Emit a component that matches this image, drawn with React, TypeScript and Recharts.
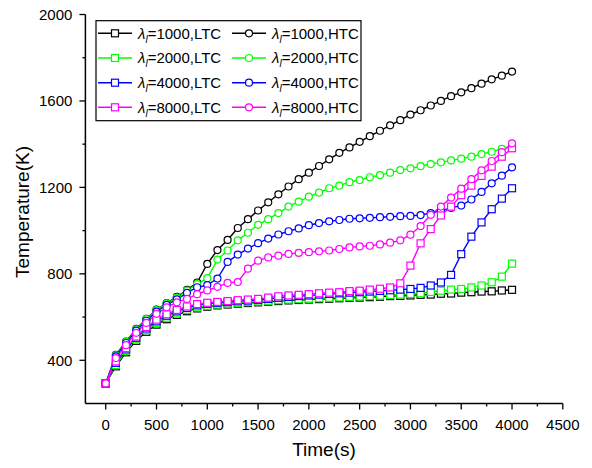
import React from 'react';
import { LineChart, Line, XAxis, YAxis } from 'recharts';

const FONT = '"Liberation Sans", Arial, sans-serif';

const times = [
  0, 100, 200, 300, 400, 500, 600, 700, 800, 900, 1000, 1100, 1200, 1300, 1400, 1500, 1600, 1700, 1800, 1900, 2000,
  2100, 2200, 2300, 2400, 2500, 2600, 2700, 2800, 2900, 3000, 3100, 3200, 3300, 3400, 3500, 3600, 3700, 3800, 3900, 4000,
];

const ltc1000 = [
  293, 372, 437, 490, 532, 565, 590, 610, 627, 640, 648, 654, 658, 662, 665, 668, 671, 674, 677, 679, 681,
  683, 685, 687, 689, 690, 692, 694, 697, 698, 700, 703, 704, 708, 709, 713, 715, 718, 719, 723, 726,
];
const htc1000 = [
  293, 425, 487, 545, 592, 634, 665, 693, 726, 760, 846, 910, 957, 1012, 1053, 1093, 1131, 1168, 1204, 1238, 1268,
  1299, 1330, 1360, 1385, 1411, 1437, 1462, 1487, 1511, 1537, 1557, 1579, 1600, 1622, 1640, 1659, 1680, 1700, 1717, 1736,
];
const ltc2000 = [
  293, 378, 443, 497, 539, 572, 597, 617, 633, 645, 652, 658, 662, 666, 669, 672, 675, 678, 681, 683, 685,
  687, 689, 691, 693, 695, 697, 699, 702, 704, 707, 710, 716, 722, 727, 730, 737, 746, 761, 787, 847,
];
const htc2000 = [
  293, 423, 485, 543, 590, 632, 663, 690, 722, 752, 780, 866, 908, 955, 990, 1027, 1053, 1081, 1111, 1134, 1157,
  1176, 1196, 1208, 1224, 1234, 1247, 1257, 1268, 1280, 1288, 1298, 1308, 1316, 1325, 1333, 1342, 1354, 1365, 1378, 1392,
];
const ltc4000 = [
  293, 388, 450, 504, 547, 580, 606, 626, 642, 654, 661, 666, 669, 673, 676, 679, 684, 689, 693, 697, 700,
  704, 707, 710, 713, 715, 718, 721, 724, 727, 730, 735, 746, 760, 795, 891, 972, 1038, 1099, 1148, 1196,
];
const htc4000 = [
  293, 418, 480, 537, 583, 625, 656, 682, 712, 738, 748, 778, 855, 889, 917, 942, 963, 982, 997, 1010, 1025,
  1035, 1043, 1049, 1055, 1057, 1059, 1062, 1064, 1067, 1068, 1072, 1081, 1092, 1105, 1116, 1144, 1179, 1219, 1254, 1293,
];
const ltc8000 = [
  293, 395, 456, 510, 554, 588, 613, 633, 649, 660, 666, 670, 674, 678, 681, 684, 690, 696, 700, 703, 706,
  710, 713, 715, 720, 722, 727, 731, 737, 756, 838, 941, 1007, 1070, 1111, 1164, 1208, 1253, 1296, 1342, 1381,
];
const htc8000 = [
  293, 410, 470, 527, 573, 615, 645, 668, 684, 706, 723, 740, 758, 762, 824, 861, 876, 884, 892, 897, 900,
  904, 908, 915, 922, 927, 930, 936, 944, 955, 981, 1021, 1073, 1111, 1153, 1194, 1238, 1279, 1322, 1363, 1404,
];

const xMajorTicks = [0, 500, 1000, 1500, 2000, 2500, 3000, 3500, 4000, 4500];
const xMinorTicks = [250, 750, 1250, 1750, 2250, 2750, 3250, 3750, 4250];
const yMajorTicks = [400, 800, 1200, 1600, 2000];
const yMinorTicks = [600, 1000, 1400, 1800];

const series = [
  { key: 'ltc1000', lambda: '1000', kind: 'LTC', color: '#000000', values: ltc1000 },
  { key: 'htc1000', lambda: '1000', kind: 'HTC', color: '#000000', values: htc1000 },
  { key: 'ltc2000', lambda: '2000', kind: 'LTC', color: '#00ff00', values: ltc2000 },
  { key: 'htc2000', lambda: '2000', kind: 'HTC', color: '#00ff00', values: htc2000 },
  { key: 'ltc4000', lambda: '4000', kind: 'LTC', color: '#0000ff', values: ltc4000 },
  { key: 'htc4000', lambda: '4000', kind: 'HTC', color: '#0000ff', values: htc4000 },
  { key: 'ltc8000', lambda: '8000', kind: 'LTC', color: '#ff00ff', values: ltc8000 },
  { key: 'htc8000', lambda: '8000', kind: 'HTC', color: '#ff00ff', values: htc8000 },
];

const data = times.map((t, i) => {
  const row: Record<string, number> = { t };
  series.forEach((s) => {
    row[s.key] = s.values[i];
  });
  return row;
});

const xTicks = [...xMajorTicks, ...xMinorTicks].sort((a, b) => a - b);
const yTicks = [...yMajorTicks, ...yMinorTicks].sort((a, b) => a - b);

const squareDot = (color: string) => (props: any) => {
  const { cx, cy, index } = props;
  if (cx == null || cy == null) return <g key={index} />;
  return (
    <rect key={index} x={cx - 3.5} y={cy - 3.5} width={7} height={7} fill="#fff" stroke={color} strokeWidth={1.2} />
  );
};

const XTick = (props: any) => {
  const { x, y, payload } = props;
  const major = xMajorTicks.includes(payload.value);
  return (
    <g>
      <line x1={x} x2={x} y1={y} y2={y + (major ? 6 : 3)} stroke="#000" strokeWidth={1.3} />
      {major && (
        <text x={x} y={y + 26.5} textAnchor="middle" fontSize={15} fontFamily={FONT} fill="#000">
          {payload.value}
        </text>
      )}
    </g>
  );
};

const YTick = (props: any) => {
  const { x, y, payload } = props;
  const major = yMajorTicks.includes(payload.value);
  return (
    <g>
      <line x1={x} x2={x - (major ? 6 : 3)} y1={y} y2={y} stroke="#000" strokeWidth={1.3} />
      {major && (
        <text x={x - 13} y={y + 5.3} textAnchor="end" fontSize={15} fontFamily={FONT} fill="#000">
          {payload.value}
        </text>
      )}
    </g>
  );
};

const legendRows = [33.3, 58, 82.7, 107.3];
const legendCols = [98, 232];

const LegendEntry = ({ s, x, y }: { s: (typeof series)[number]; x: number; y: number }) => (
  <g>
    <line x1={x} x2={x + 34} y1={y} y2={y} stroke={s.color} strokeWidth={1.5} />
    {s.kind === 'LTC' ? (
      <rect x={x + 13.5} y={y - 3.5} width={7} height={7} fill="#fff" stroke={s.color} strokeWidth={1.2} />
    ) : (
      <circle cx={x + 17} cy={y} r={3.5} fill="#fff" stroke={s.color} strokeWidth={1.2} />
    )}
    <text x={x + 40} y={y + 5.3} fontSize={15} fontFamily={FONT} fill="#000">
      <tspan fontStyle="italic">λ</tspan>
      <tspan fontStyle="italic" fontSize={10} dy={4}>l</tspan>
      <tspan dy={-4}>={s.lambda},{s.kind}</tspan>
    </text>
  </g>
);

export default function App() {
  return (
    <div style={{ position: 'absolute', left: 0, top: 0, width: 592, height: 468, background: '#fff' }}>
      <LineChart width={592} height={468} data={data} margin={{ top: 14.5, right: 29.2, bottom: 0, left: 0 }}>
        <XAxis
          dataKey="t"
          type="number"
          domain={[-200, 4500]}
          ticks={xTicks}
          interval={0}
          tickLine={false}
          tickSize={0}
          tickMargin={0}
          tick={XTick}
          height={64.5}
          axisLine={{ stroke: '#000', strokeWidth: 1.5 }}
          allowDataOverflow
        />
        <YAxis
          type="number"
          domain={[200, 2000]}
          ticks={yTicks}
          interval={0}
          tickLine={false}
          tickSize={0}
          tickMargin={0}
          tick={YTick}
          width={85.4}
          axisLine={{ stroke: '#000', strokeWidth: 1.5 }}
          allowDataOverflow
        />
        {series.map((s) => (
          <Line
            key={s.key}
            dataKey={s.key}
            type="linear"
            stroke={s.color}
            strokeWidth={1.4}
            dot={s.kind === 'LTC' ? squareDot(s.color) : { r: 3.5, fill: '#fff', stroke: s.color, strokeWidth: 1.2 }}
            activeDot={false}
            isAnimationActive={false}
          />
        ))}
      </LineChart>

      <svg
        width={592}
        height={468}
        style={{ position: 'absolute', left: 0, top: 0, pointerEvents: 'none' }}
      >
        {/* Legend */}
        <rect x={96} y={20.7} width={265} height={100} fill="#fff" stroke="#000" strokeWidth={1.2} />
        {series.map((s, i) => (
          <LegendEntry
            key={s.key}
            s={s}
            x={legendCols[s.kind === 'LTC' ? 0 : 1]}
            y={legendRows[Math.floor(i / 2)]}
          />
        ))}

        {/* Axis titles */}
        <text x={324} y={456} textAnchor="middle" fontSize={19} fontFamily={FONT} fill="#000">
          Time(s)
        </text>
        <text
          x={0}
          y={0}
          transform="translate(29 212) rotate(-90)"
          textAnchor="middle"
          fontSize={19}
          fontFamily={FONT}
          fill="#000"
        >
          Temperature(K)
        </text>
      </svg>
    </div>
  );
}
